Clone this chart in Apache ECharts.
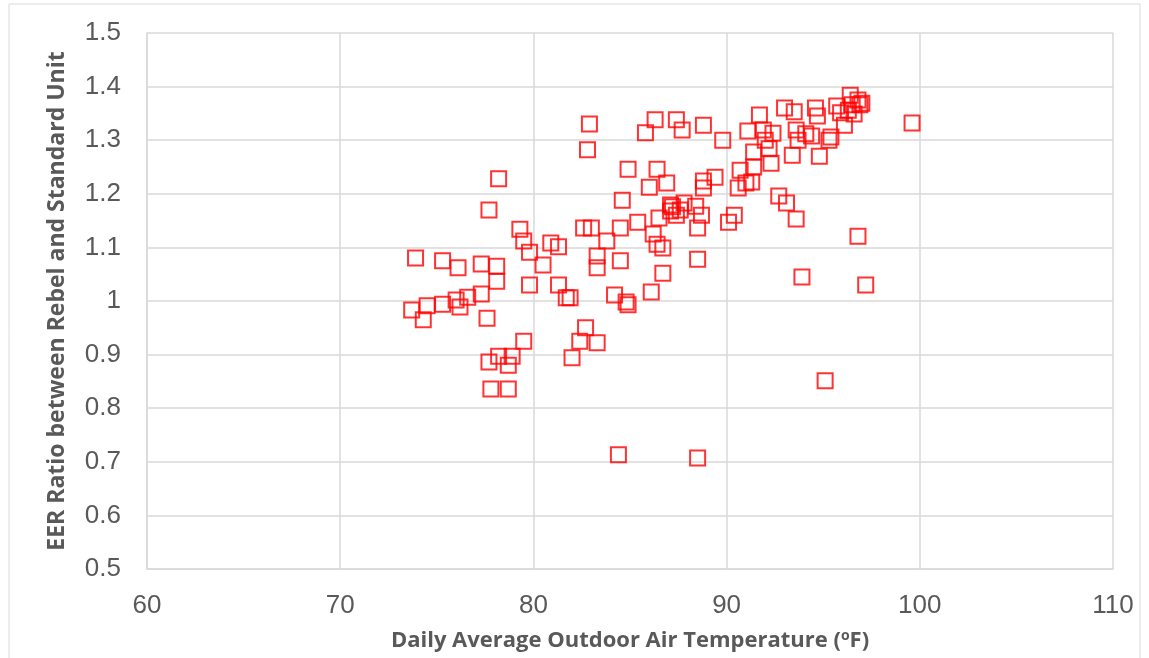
<!DOCTYPE html>
<html>
<head>
<meta charset="utf-8">
<script src="https://cdn.jsdelivr.net/npm/echarts@6/dist/echarts.min.js"></script>
<style>
  html, body { margin: 0; padding: 0; background: #fff; }
  #chart { width: 1149px; height: 658px; }
</style>
</head>
<body>
<div id="chart"></div>
<script>
// daily average outdoor air temperature (F)
const temps = [
  73.7, 73.9, 74.3, 74.5, 75.3, 75.3, 76.1, 76.0, 76.2, 76.6,
  77.3, 77.3, 77.6, 77.7, 77.7, 77.8, 78.1, 78.1, 78.2, 78.2,
  78.7, 78.7, 78.9, 79.3, 79.5, 79.5, 79.8, 79.8, 80.5, 80.9,
  81.3, 81.3, 81.7, 81.9, 82.0, 82.4, 82.6, 82.7, 82.8, 82.9,
  83.0, 83.3, 83.3, 83.3, 83.8, 84.2, 84.4, 84.5, 84.5, 84.6,
  84.8, 84.9, 84.9, 85.4, 85.8, 86.0, 86.1, 86.3, 86.2, 86.4,
  86.4, 86.5, 86.7, 86.7, 86.9, 87.1, 87.1, 87.2, 87.4, 87.4,
  87.6, 87.7, 87.8, 88.4, 88.5, 88.5, 88.5, 88.7, 88.8, 88.8,
  88.8, 89.4, 89.8, 90.1, 90.4, 90.6, 90.7, 91.0, 91.1, 91.3,
  91.4, 91.4, 91.7, 91.9, 92.0, 92.2, 92.3, 92.4, 92.7, 93.0,
  93.1, 93.4, 93.5, 93.6, 93.6, 93.7, 93.9, 94.1, 94.4, 94.6,
  94.7, 94.8, 95.1, 95.3, 95.4, 95.7, 95.9, 96.1, 96.3, 96.4,
  96.5, 96.6, 96.8, 96.8, 96.9, 97.0, 97.2, 99.6
];
// EER ratio, Rebel / standard unit
const ratios = [
  0.983, 1.080, 0.965, 0.991, 1.075, 0.994, 1.062, 1.002, 0.989, 1.007,
  1.069, 1.013, 0.968, 1.170, 0.886, 0.836, 1.065, 1.037, 1.228, 0.897,
  0.836, 0.880, 0.897, 1.134, 1.112, 0.925, 1.091, 1.030, 1.067, 1.108,
  1.101, 1.030, 1.006, 1.006, 0.894, 0.925, 1.136, 0.950, 1.282, 1.330,
  1.136, 0.922, 1.062, 1.084, 1.112, 1.011, 0.713, 1.075, 1.136, 1.188,
  0.998, 0.993, 1.246, 1.147, 1.314, 1.212, 1.017, 1.338, 1.125, 1.106,
  1.246, 1.155, 1.052, 1.099, 1.220, 1.179, 1.168, 1.176, 1.338, 1.160,
  1.170, 1.319, 1.183, 1.177, 0.707, 1.078, 1.136, 1.160, 1.328, 1.224,
  1.211, 1.231, 1.300, 1.147, 1.160, 1.211, 1.244, 1.220, 1.317, 1.222,
  1.250, 1.278, 1.347, 1.319, 1.300, 1.284, 1.257, 1.313, 1.196, 1.360,
  1.183, 1.272, 1.353, 1.319, 1.153, 1.300, 1.045, 1.312, 1.308, 1.360,
  1.345, 1.270, 0.851, 1.300, 1.306, 1.364, 1.351, 1.328, 1.356, 1.384,
  1.366, 1.349, 1.375, 1.121, 1.366, 1.369, 1.030, 1.332
];

const chart = echarts.init(document.getElementById('chart'));
const points = temps.map((t, i) => [t, ratios[i]]);

const option = {
  backgroundColor: '#fff',
  animation: false,
  graphic: [{
    type: 'rect',
    shape: { x: 9, y: 4, width: 1131, height: 660 },
    style: { fill: 'none', stroke: '#d9d9d9', lineWidth: 1 },
    silent: true
  }],
  grid: { left: 147, right: 36, top: 33, bottom: 89 },
  xAxis: {
    type: 'value',
    min: 60, max: 110, interval: 10,
    name: 'Daily Average Outdoor Air Temperature ({sup|o}F)',
    nameLocation: 'middle',
    nameGap: 60,
    nameTextStyle: {
      fontFamily: 'Open Sans', fontWeight: 'bold', fontSize: 22, color: '#595959',
      rich: { sup: { fontFamily: 'Open Sans', fontWeight: 'bold', fontSize: 14, color: '#595959', verticalAlign: 'top', padding: [0, 0, 9, 0] } }
    },
    axisLine: { show: true, lineStyle: { color: '#d9d9d9', width: 1.5 } },
    axisTick: { show: false },
    axisLabel: { fontFamily: 'Liberation Sans', fontSize: 26, color: '#595959', margin: 24 },
    splitLine: { show: true, lineStyle: { color: '#d9d9d9', width: 1.5 } }
  },
  yAxis: {
    type: 'value',
    min: 0.5, max: 1.5, interval: 0.1,
    name: 'EER Ratio between Rebel and Standard Unit',
    nameLocation: 'middle',
    nameGap: 78,
    nameTextStyle: { fontFamily: 'Open Sans', fontWeight: 'bold', fontSize: 23, color: '#595959' },
    axisLine: { show: true, lineStyle: { color: '#d9d9d9', width: 1.5 } },
    axisTick: { show: false },
    axisLabel: {
      fontFamily: 'Liberation Sans', fontSize: 26, color: '#595959', margin: 26,
      formatter: v => String(Math.round(v * 10) / 10)
    },
    splitLine: { show: true, lineStyle: { color: '#d9d9d9', width: 1.5 } }
  },
  series: [{
    type: 'scatter',
    symbol: 'rect',
    symbolSize: 15,
    itemStyle: { color: 'rgba(255,255,255,0)', borderColor: '#ff0000', borderWidth: 2 },
    data: points
  }]
};

chart.setOption(option);
</script>
</body>
</html>
